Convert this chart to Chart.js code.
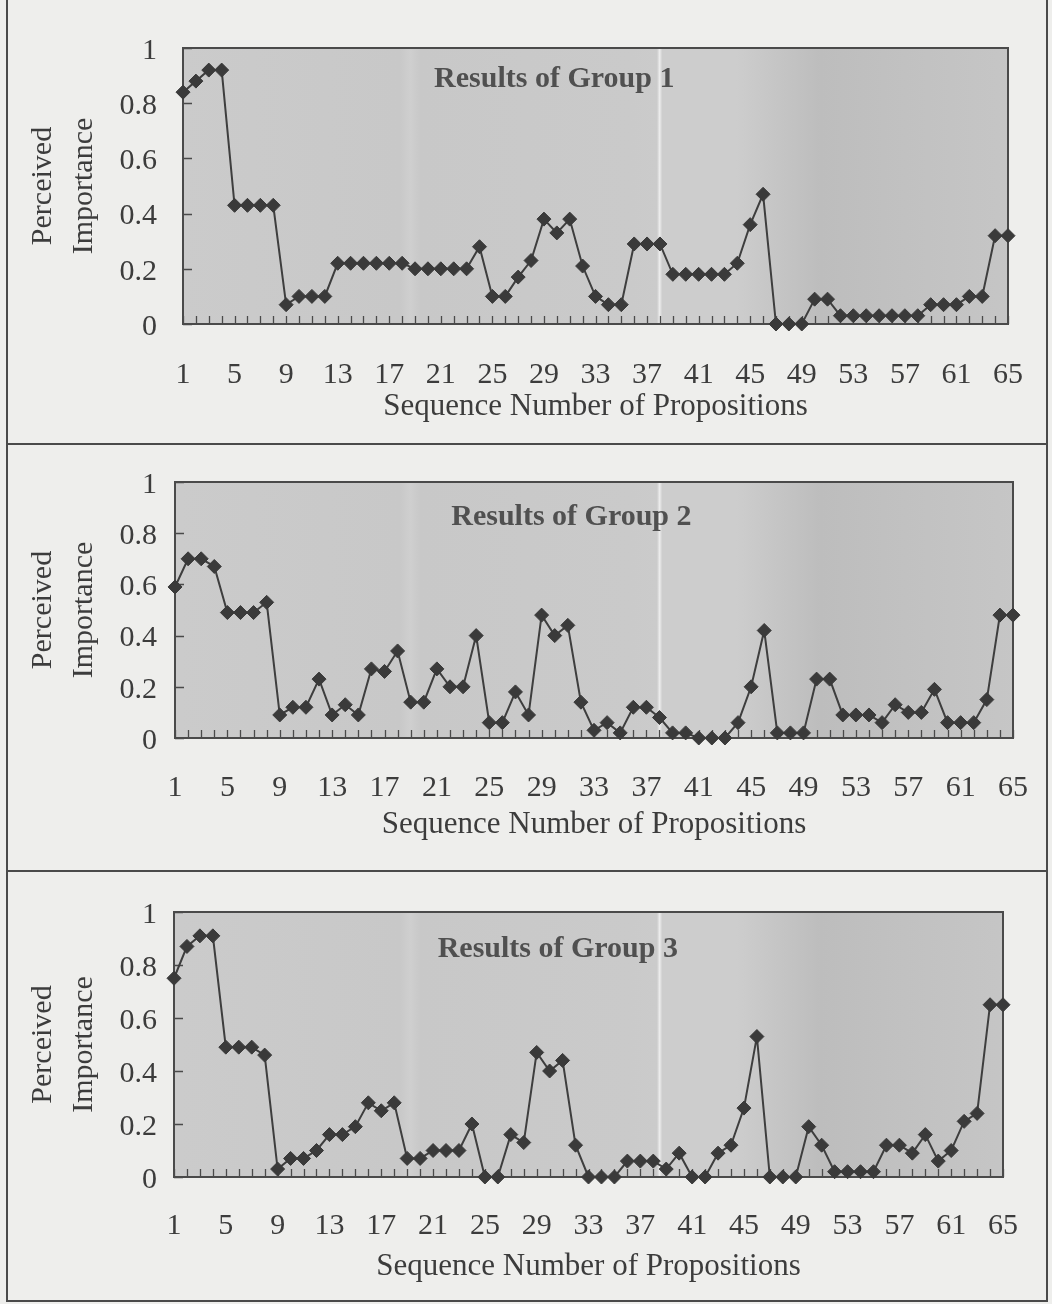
<!DOCTYPE html>
<html>
<head>
<meta charset="utf-8">
<script src="https://cdn.jsdelivr.net/npm/chart.js@4.4.1/dist/chart.umd.min.js"></script>
<style>
  html, body { margin: 0; padding: 0; background: #eeeeec; }
  #page { position: relative; width: 1052px; height: 1304px; overflow: hidden; background: #eeeeec; }
  .panel { position: absolute; left: 0; width: 1052px; }
  canvas { display: block; }
  .rule { position: absolute; background: #4a4a4a; }
</style>
</head>
<body>
<div id="page">
  <div class="panel" style="top:0px;height:444px"><canvas id="c1" width="1052" height="444"></canvas></div>
  <div class="panel" style="top:444px;height:427px"><canvas id="c2" width="1052" height="427"></canvas></div>
  <div class="panel" style="top:871px;height:433px"><canvas id="c3" width="1052" height="433"></canvas></div>
  <div class="rule" style="left:6px;top:0;width:2px;height:1302px"></div>
  <div class="rule" style="left:1046px;top:0;width:2px;height:1302px"></div>
  <div class="rule" style="left:6px;top:1300px;width:1042px;height:2px"></div>
  <div class="rule" style="left:6px;top:443px;width:1042px;height:2px"></div>
  <div class="rule" style="left:6px;top:870px;width:1042px;height:2px"></div>
</div>
<script>
// ---------------- DATA ----------------
const propositions = ["1","2","3","4","5","6","7","8","9","10","11","12","13","14","15","16","17","18","19","20",
  "21","22","23","24","25","26","27","28","29","30","31","32","33","34","35","36","37","38","39","40",
  "41","42","43","44","45","46","47","48","49","50","51","52","53","54","55","56","57","58","59","60",
  "61","62","63","64","65"];
const xTickLabels = ["1","5","9","13","17","21","25","29","33","37","41","45","49","53","57","61","65"];
const yTickValues = [0, 0.2, 0.4, 0.6, 0.8, 1];
const yTickLabels = ["0", "0.2", "0.4", "0.6", "0.8", "1"];

const group1 = [0.84,0.88,0.92,0.92,0.43,0.43,0.43,0.43,0.07,0.10,
  0.10,0.10,0.22,0.22,0.22,0.22,0.22,0.22,0.20,0.20,
  0.20,0.20,0.20,0.28,0.10,0.10,0.17,0.23,0.38,0.33,
  0.38,0.21,0.10,0.07,0.07,0.29,0.29,0.29,0.18,0.18,
  0.18,0.18,0.18,0.22,0.36,0.47,0.00,0.00,0.00,0.09,
  0.09,0.03,0.03,0.03,0.03,0.03,0.03,0.03,0.07,0.07,
  0.07,0.10,0.10,0.32,0.32];
const group2 = [0.59,0.70,0.70,0.67,0.49,0.49,0.49,0.53,0.09,0.12,
  0.12,0.23,0.09,0.13,0.09,0.27,0.26,0.34,0.14,0.14,
  0.27,0.20,0.20,0.40,0.06,0.06,0.18,0.09,0.48,0.40,
  0.44,0.14,0.03,0.06,0.02,0.12,0.12,0.08,0.02,0.02,
  0.00,0.00,0.00,0.06,0.20,0.42,0.02,0.02,0.02,0.23,
  0.23,0.09,0.09,0.09,0.06,0.13,0.10,0.10,0.19,0.06,
  0.06,0.06,0.15,0.48,0.48];
const group3 = [0.75,0.87,0.91,0.91,0.49,0.49,0.49,0.46,0.03,0.07,
  0.07,0.10,0.16,0.16,0.19,0.28,0.25,0.28,0.07,0.07,
  0.10,0.10,0.10,0.20,0.00,0.00,0.16,0.13,0.47,0.40,
  0.44,0.12,0.00,0.00,0.00,0.06,0.06,0.06,0.03,0.09,
  0.00,0.00,0.09,0.12,0.26,0.53,0.00,0.00,0.00,0.19,
  0.12,0.02,0.02,0.02,0.02,0.12,0.12,0.09,0.16,0.06,
  0.10,0.21,0.24,0.65,0.65];
const groupTitles = ["Results of Group 1", "Results of Group 2", "Results of Group 3"];
const xTitle = "Sequence Number of Propositions";
const yTitle = ["Perceived", "Importance"];

// ---------------- STYLE / LAYOUT ----------------
const FONT = "'Liberation Serif', 'Times New Roman', serif";
const TEXT = '#3c3c3c';

const panelPlugin = {
  id: 'panelDecor',
  beforeDraw(chart) {
    const {ctx, chartArea: a} = chart;
    const g = ctx.createLinearGradient(0, 0, 1052, 0);
    g.addColorStop(0.17, '#cbcbcb');
    g.addColorStop(0.38, '#c8c8c8');
    g.addColorStop(0.39, '#cfcfcf');
    g.addColorStop(0.40, '#c8c8c8');
    g.addColorStop(0.60, '#cacaca');
    g.addColorStop(0.6245, '#cbcbcb');
    g.addColorStop(0.627, '#ededed');
    g.addColorStop(0.6295, '#cdcdcd');
    g.addColorStop(0.70, '#cdcdcd');
    g.addColorStop(0.78, '#bdbdbd');
    g.addColorStop(0.86, '#c1c1c1');
    g.addColorStop(0.97, '#c6c6c6');
    ctx.save();
    ctx.fillStyle = g;
    ctx.fillRect(a.left, a.top, a.right - a.left, a.bottom - a.top);
    ctx.restore();
  },
  beforeDatasetsDraw(chart, args, opts) {
    const {ctx, chartArea: a, scales: {x, y}} = chart;
    ctx.save();
    // inner tick marks
    ctx.strokeStyle = '#4a4a4a';
    ctx.lineWidth = 1.3;
    ctx.beginPath();
    for (let i = 0; i < propositions.length; i++) {
      const px = Math.round(x.getPixelForValue(i)) + 0.5;
      ctx.moveTo(px, a.bottom);
      ctx.lineTo(px, a.bottom - 8);
    }
    yTickValues.forEach(v => {
      const py = Math.round(y.getPixelForValue(v)) + 0.5;
      ctx.moveTo(a.left, py);
      ctx.lineTo(a.left + 9, py);
    });
    ctx.stroke();
    // frame
    ctx.strokeStyle = '#4a4a4a';
    ctx.lineWidth = 2;
    ctx.strokeRect(a.left, a.top, a.right - a.left, a.bottom - a.top);
    // title inside plot
    ctx.fillStyle = '#505050';
    ctx.font = 'bold 30px ' + FONT;
    ctx.textAlign = 'center';
    ctx.textBaseline = 'alphabetic';
    ctx.fillText(opts.text, a.left + (a.right - a.left) * opts.fx, a.top + opts.dy);
    ctx.restore();
  }
};

function makeChart(id, values, title, L) {
  return new Chart(document.getElementById(id), {
    type: 'line',
    data: {
      labels: propositions,
      datasets: [{
        data: values,
        borderColor: '#3e3e3e',
        borderWidth: 2,
        pointStyle: 'rectRot',
        pointRadius: 7,
        pointBackgroundColor: '#3a3a3a',
        pointBorderColor: '#3a3a3a',
        pointBorderWidth: 1,
        tension: 0,
        clip: false
      }]
    },
    options: {
      responsive: false,
      animation: false,
      events: [],
      layout: { padding: { left: 0, top: L.top, right: L.right, bottom: 0 } },
      plugins: {
        legend: { display: false },
        tooltip: { enabled: false },
        panelDecor: { text: title, fx: L.fx, dy: L.dy }
      },
      scales: {
        x: {
          type: 'category',
          offset: false,
          grid: { display: false, drawTicks: false },
          border: { display: false },
          ticks: {
            autoSkip: false,
            maxRotation: 0,
            minRotation: 0,
            padding: L.xPad,
            color: TEXT,
            font: { family: FONT, size: 30, lineHeight: 2.2 },
            callback: function (v) {
              const lab = this.getLabelForValue(v);
              return xTickLabels.includes(lab) ? lab : '';
            }
          },
          title: {
            display: true,
            text: xTitle,
            color: TEXT,
            font: { family: FONT, size: 31 },
            padding: { top: 0, bottom: L.xTitleBottom }
          },
          afterFit: s => { s.height = L.xH; }
        },
        y: {
          min: 0,
          max: 1,
          grid: { display: false, drawTicks: false },
          border: { display: false },
          afterBuildTicks: s => { s.ticks = yTickValues.map(v => ({ value: v })); },
          ticks: {
            padding: L.yPad,
            labelOffset: 3,
            color: TEXT,
            font: { family: FONT, size: 30 },
            callback: (v, i) => yTickLabels[i]
          },
          title: {
            display: true,
            text: yTitle,
            color: TEXT,
            font: { family: FONT, size: 30, lineHeight: 1.38 },
            padding: { top: L.yTitleTop, bottom: 0 }
          },
          afterFit: s => { s.width = L.yW; }
        }
      }
    },
    plugins: [panelPlugin]
  });
}

makeChart('c1', group1, groupTitles[0],
  { top: 48, right: 44, yW: 183, xH: 120, xPad: 18, xTitleBottom: 19, yPad: 26, yTitleTop: 22, fx: 0.45, dy: 39 });
makeChart('c2', group2, groupTitles[1],
  { top: 38, right: 39, yW: 175, xH: 133, xPad: 17, xTitleBottom: 28, yPad: 18, yTitleTop: 22, fx: 0.473, dy: 43 });
makeChart('c3', group3, groupTitles[2],
  { top: 41, right: 49, yW: 174, xH: 127, xPad: 16, xTitleBottom: 19, yPad: 17, yTitleTop: 22, fx: 0.463, dy: 45 });
</script>
</body>
</html>
